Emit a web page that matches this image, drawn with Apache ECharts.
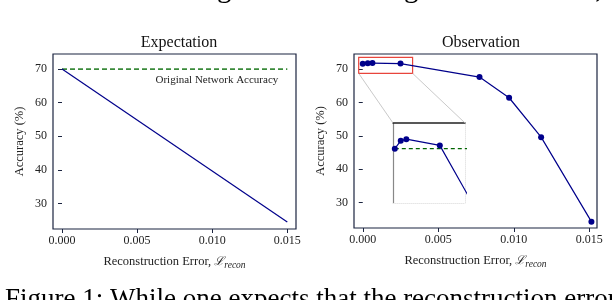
<!DOCTYPE html>
<html><head><meta charset="utf-8">
<script src="https://cdn.jsdelivr.net/npm/echarts@6/dist/echarts.min.js"></script>
<style>html,body{margin:0;padding:0;background:#fff}#c{width:612px;height:300px}</style>
</head><body><div id="c"></div>
<script>
// ---- data ----
const xTickValues = [0, 0.005, 0.010, 0.015];
const xTickLabels = ['0.000', '0.005', '0.010', '0.015'];
const yTickValues = [30, 40, 50, 60, 70];
const expX = [0, 0.015];
const expY = [70, 24.5];
const expBaseline = 70;
const obsX = [0, 0.00033, 0.00064, 0.0025, 0.00773, 0.00969, 0.01181, 0.01514];
const obsY = [71.55, 71.74, 71.78, 71.63, 67.6, 61.4, 49.6, 24.3];
const zoomBoxX = [-0.00027, 0.0033];
const zoomBoxY = [68.7, 73.5];
const insetX = [-0.0001, 0.0039];
const insetY = [70.24, 72.17];
const titles = ['Expectation', 'Observation'];
const yName = 'Accuracy (%)';
const baselineLabel = 'Original Network Accuracy';
const topText = 'to overfit to the original model weights. To this end,';
const bottomText = 'Figure 1: While one expects that the reconstruction error';

const FONT = 'Liberation Serif';
const NAVY = '#00008b';
const SPINE = '#1b2440';
const GREEN_L = '#3a8a3a';
const GREEN_I = '#006400';

const expData = expX.map((x, i) => [x, expY[i]]);
const obsData = obsX.map((x, i) => [x, obsY[i]]);
const expBase = [[expX[0], expBaseline], [expX[expX.length - 1], expBaseline]];
const obsBase = [[obsX[0], obsY[0]], [0.02, obsY[0]]];

function mainX(grid, min, max) {
  return {
    type: 'value', gridIndex: grid, min: min, max: max,
    splitLine: {show: false},
    axisLine: {show: false},
    axisTick: {show: true, inside: false, length: 4, lineStyle: {color: SPINE}, customValues: xTickValues},
    axisLabel: {show: true, margin: 6, fontFamily: FONT, fontSize: 12, color: '#222',
      customValues: xTickValues,
      formatter: v => { const i = xTickValues.findIndex(t => Math.abs(t - v) < 1e-9); return i >= 0 ? xTickLabels[i] : ''; }},
    name: '{a|Reconstruction Error, }{b|ℒ}{c|recon}',
    nameLocation: 'middle', nameGap: 25,
    nameTextStyle: {rich: {
      a: {fontFamily: FONT, fontSize: 12.5, color: '#222'},
      b: {fontFamily: 'DejaVu Serif', fontStyle: 'italic', fontSize: 12, color: '#222'},
      c: {fontFamily: FONT, fontStyle: 'italic', fontSize: 9.5, color: '#222', padding: [6, 0, 0, 0]}
    }}
  };
}
function mainY(grid) {
  return {
    type: 'value', gridIndex: grid, min: 22.4, max: 74.5,
    splitLine: {show: false},
    axisLine: {show: false},
    axisTick: {show: true, inside: false, length: 4, lineStyle: {color: SPINE}, customValues: yTickValues},
    axisLabel: {show: true, margin: 6, fontFamily: FONT, fontSize: 12, color: '#222', customValues: yTickValues},
    name: yName, nameLocation: 'middle', nameGap: 27, nameRotate: 90,
    nameTextStyle: {fontFamily: FONT, fontSize: 12.5, color: '#222'}
  };
}
function hiddenAxis(type, grid, min, max, pos, color, width, dash) {
  return {
    type: 'value', gridIndex: grid, min: min, max: max, position: pos,
    splitLine: {show: false}, axisTick: {show: false}, axisLabel: {show: false},
    axisLine: {show: true, onZero: false, lineStyle: {color: color, width: width, type: dash || 'solid'}}
  };
}

const chart = echarts.init(document.getElementById('c'), null, {renderer: 'canvas'});
chart.setOption({
  animation: false,
  backgroundColor: '#fff',
  title: [
    {text: titles[0], left: 174, top: 30, textAlign: 'center', textStyle: {fontFamily: FONT, fontSize: 16, fontWeight: 'normal', color: '#111'}},
    {text: titles[1], left: 476, top: 30, textAlign: 'center', textStyle: {fontFamily: FONT, fontSize: 16, fontWeight: 'normal', color: '#111'}}
  ],
  grid: [
    {left: 53, right: 316, top: 54, bottom: 71, show: true, borderColor: SPINE, borderWidth: 1.2, backgroundColor: 'transparent'},
    {left: 354, right: 15, top: 54, bottom: 72, show: true, borderColor: SPINE, borderWidth: 1.2, backgroundColor: 'transparent'},
    {left: 393, top: 123, width: 72, height: 80, show: true, backgroundColor: '#fff', borderWidth: 0}
  ],
  xAxis: [
    mainX(0, -0.0006, 0.01558),
    mainX(1, -0.00058, 0.01551),
    hiddenAxis('x', 2, insetX[0], insetX[1], 'bottom', '#e6e6e6', 1, 'dotted'),
    hiddenAxis('x', 2, insetX[0], insetX[1], 'top', '#222', 1.5)
  ],
  yAxis: [
    mainY(0),
    mainY(1),
    hiddenAxis('y', 2, insetY[0], insetY[1], 'left', '#888', 1.2),
    hiddenAxis('y', 2, insetY[0], insetY[1], 'right', '#e6e6e6', 1, 'dotted')
  ],
  series: [
    {type: 'line', xAxisIndex: 0, yAxisIndex: 0, data: expBase, symbol: 'none',
     lineStyle: {color: GREEN_L, width: 1.8, type: [5, 3]}, z: 3},
    {type: 'line', xAxisIndex: 0, yAxisIndex: 0, data: expData, symbol: 'none',
     lineStyle: {color: NAVY, width: 1.2}, z: 4},
    {type: 'line', xAxisIndex: 1, yAxisIndex: 1, data: obsData, symbol: 'circle', symbolSize: 6,
     itemStyle: {color: NAVY}, lineStyle: {color: NAVY, width: 1.2}, z: 4,
     markArea: {silent: true, itemStyle: {color: 'transparent', borderColor: '#e8453c', borderWidth: 1.2},
       data: [[{coord: [zoomBoxX[0], zoomBoxY[1]]}, {coord: [zoomBoxX[1], zoomBoxY[0]]}]]}},
    {type: 'line', xAxisIndex: 2, yAxisIndex: 2, data: obsBase, symbol: 'none', clip: true,
     lineStyle: {color: GREEN_I, width: 1.2, type: [4, 3]}, z: 10},
    {type: 'line', xAxisIndex: 2, yAxisIndex: 2, data: obsData, symbol: 'circle', symbolSize: 6, clip: true,
     itemStyle: {color: NAVY}, lineStyle: {color: NAVY, width: 1.2}, z: 11}
  ]
});

// annotations positioned through the axes
const bl = chart.convertToPixel({xAxisIndex: 1, yAxisIndex: 1}, [zoomBoxX[0], zoomBoxY[0]]);
const br = chart.convertToPixel({xAxisIndex: 1, yAxisIndex: 1}, [zoomBoxX[1], zoomBoxY[0]]);
const itl = chart.convertToPixel({xAxisIndex: 2, yAxisIndex: 2}, [insetX[0], insetY[1]]);
const itr = chart.convertToPixel({xAxisIndex: 2, yAxisIndex: 2}, [insetX[1], insetY[1]]);
const lbl = chart.convertToPixel({xAxisIndex: 0, yAxisIndex: 0}, [0.0144, expBaseline]);

chart.setOption({
  graphic: [
    {type: 'line', shape: {x1: bl[0], y1: bl[1], x2: itl[0], y2: itl[1]}, style: {stroke: '#bbb', lineWidth: 0.8}, z: 1},
    {type: 'line', shape: {x1: br[0], y1: br[1], x2: itr[0], y2: itr[1]}, style: {stroke: '#bbb', lineWidth: 0.8}, z: 1},
    {type: 'text', x: lbl[0], y: lbl[1] + 5, style: {text: baselineLabel, fontFamily: FONT, fontSize: 11, fill: '#222', align: 'right', verticalAlign: 'top'}, z: 20},
    {type: 'text', x: -2, y: -25, style: {text: topText, fontFamily: FONT, fontSize: 29, fill: '#000', align: 'left', verticalAlign: 'top'}, z: 20},
    {type: 'text', x: 5, y: 286, style: {text: bottomText, fontFamily: FONT, fontSize: 27, fill: '#000', align: 'left', verticalAlign: 'top'}, z: 20}
  ]
});
</script></body></html>
